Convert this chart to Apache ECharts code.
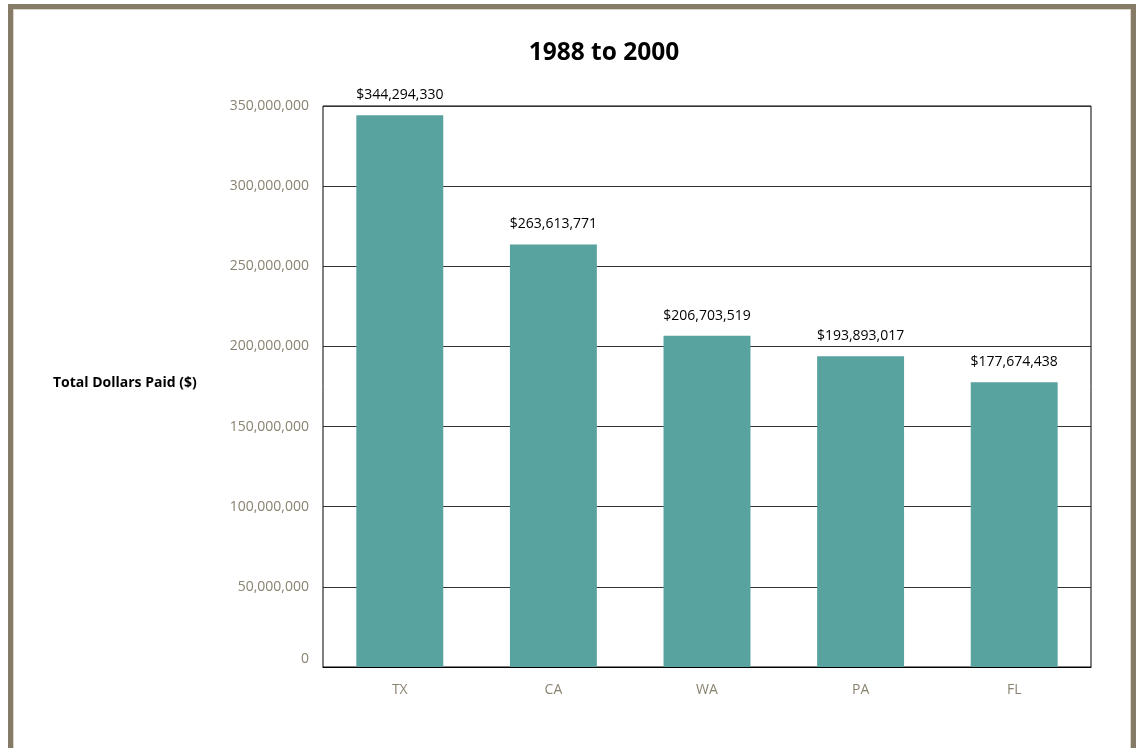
<!DOCTYPE html>
<html>
<head>
<meta charset="utf-8">
<script src="https://cdn.jsdelivr.net/npm/echarts@6/dist/echarts.min.js"></script>
<style>
  html, body { margin: 0; padding: 0; background: #ffffff; overflow: hidden; }
  #frame {
    position: absolute; left: 8px; top: 4px; width: 1118px; height: 760px;
    border: 5px solid #857b66; box-shadow: inset 0 0 0 1px #d9d5cc;
  }
  #chart { position: absolute; left: 0; top: 0; width: 1141px; height: 748px; }
</style>
</head>
<body>
<div id="frame"></div>
<div id="chart"></div>
<script>
// Total dollars paid by state, 1988 to 2000
const chartTitle = '1988 to 2000';
const yAxisTitle = 'Total Dollars Paid ($)';
const states = ['TX', 'CA', 'WA', 'PA', 'FL'];
const dollarsPaid = [344294330, 263613771, 206703519, 193893017, 177674438];
const yTicks = [0, 50000000, 100000000, 150000000, 200000000, 250000000, 300000000, 350000000];

const FONT = '"Open Sans", "Noto Sans", sans-serif';
const fmt = v => Number(v).toLocaleString('en-US');

const chart = echarts.init(document.getElementById('chart'), null, { renderer: 'canvas' });
chart.setOption({
  animation: false,
  backgroundColor: 'transparent',
  graphic: [{
    type: 'text', x: 604, y: 53,
    style: {
      text: chartTitle, fontFamily: FONT, fontWeight: 'bold', fontSize: 24.5, fill: '#000',
      align: 'center', verticalAlign: 'middle'
    }
  }, {
    type: 'text', x: 53, y: 383,
    style: {
      text: yAxisTitle, fontFamily: FONT, fontWeight: 'bold', fontSize: 14, fill: '#000',
      align: 'left', verticalAlign: 'middle'
    }
  }],
  grid: {
    left: 323, top: 106, width: 768, height: 561,
    show: true, borderColor: '#000', borderWidth: 1, backgroundColor: 'transparent'
  },
  xAxis: {
    type: 'category', data: states,
    axisLine: { show: true, lineStyle: { color: '#000', width: 1 } },
    axisTick: { show: false },
    axisLabel: { color: '#8a8371', fontFamily: FONT, fontSize: 14, margin: 16 }
  },
  yAxis: {
    type: 'value', min: yTicks[0], max: yTicks[yTicks.length - 1], interval: yTicks[1] - yTicks[0],
    axisLine: { show: false }, axisTick: { show: false },
    splitLine: { show: true, lineStyle: { color: '#333', width: 1 } },
    axisLabel: {
      color: '#8a8371', fontFamily: FONT, fontSize: 14, margin: 14,
      // the zero label sits a little above the baseline
      formatter: v => (v === 0 ? '{zero|0}' : fmt(v)),
      rich: { zero: { color: '#8a8371', fontFamily: FONT, fontSize: 14, padding: [0, 0, 15, 0] } }
    }
  },
  series: [{
    type: 'bar', data: dollarsPaid, barWidth: '56.6%',
    itemStyle: { color: '#58a2a0' },
    label: {
      show: true, position: 'top', distance: 13,
      fontFamily: FONT, fontSize: 14, color: '#000',
      formatter: p => '$' + fmt(p.value)
    }
  }]
});
</script>
</body>
</html>
